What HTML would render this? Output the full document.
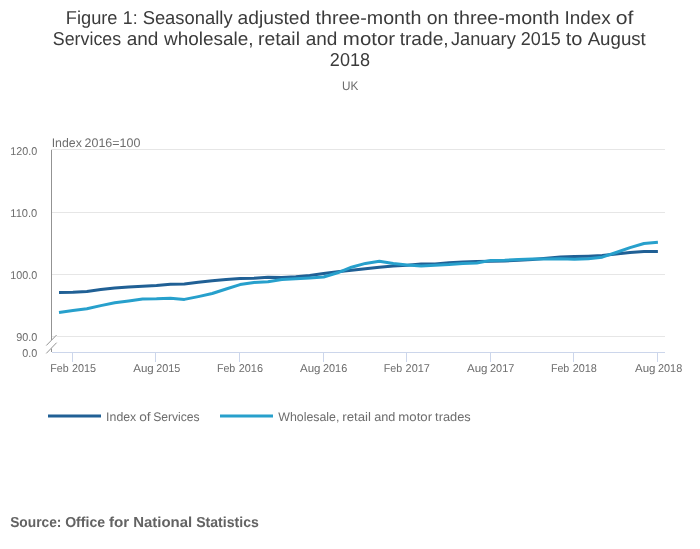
<!DOCTYPE html>
<html><head><meta charset="utf-8">
<style>
html,body{margin:0;padding:0;background:#fff;width:700px;height:549px;overflow:hidden;}
svg{display:block;will-change:transform;text-rendering:geometricPrecision;font-family:"Liberation Sans",sans-serif;}
</style></head>
<body>
<svg width="700" height="549" viewBox="0 0 700 549">
<rect width="700" height="549" fill="#fff"/>
<g stroke="#e6e6e6" stroke-width="1">
<path d="M51 149.5H665"/>
<path d="M51 212.5H665"/>
<path d="M51 274.5H665"/>
<path d="M51 336.5H665"/>
</g>
<path d="M51.5 150V340" stroke="#939393" stroke-width="1"/>
<path d="M51.5 348.5V352" stroke="#939393" stroke-width="1"/>
<path d="M52 352.5H665" stroke="#ccd6eb" stroke-width="1"/>
<path d="M72.5 352V362" stroke="#ccd6eb" stroke-width="1"/><path d="M155.5 352V362" stroke="#ccd6eb" stroke-width="1"/><path d="M239.5 352V362" stroke="#ccd6eb" stroke-width="1"/><path d="M323.5 352V362" stroke="#ccd6eb" stroke-width="1"/><path d="M406.5 352V362" stroke="#ccd6eb" stroke-width="1"/><path d="M490.5 352V362" stroke="#ccd6eb" stroke-width="1"/><path d="M573.5 352V362" stroke="#ccd6eb" stroke-width="1"/><path d="M657.5 352V362" stroke="#ccd6eb" stroke-width="1"/>
<polygon points="46.3,345.5 56.6,335 56.6,342.7 46.3,353.4" fill="#fff"/>
<path d="M46.3 345.5L56.6 335M46.3 353.4L56.6 342.7" stroke="#939393" stroke-width="1"/>
<text x="65.80" y="23.6" font-size="18.63" fill="#3b3b3b" textLength="51.70" lengthAdjust="spacingAndGlyphs">Figure</text>
<text x="122.83" y="23.6" font-size="18.63" fill="#3b3b3b" textLength="14.77" lengthAdjust="spacingAndGlyphs">1:</text>
<text x="142.63" y="23.6" font-size="18.63" fill="#3b3b3b" textLength="89.99" lengthAdjust="spacingAndGlyphs">Seasonally</text>
<text x="237.54" y="23.6" font-size="18.63" fill="#3b3b3b" textLength="72.71" lengthAdjust="spacingAndGlyphs">adjusted</text>
<text x="315.51" y="23.6" font-size="18.63" fill="#3b3b3b" textLength="105.90" lengthAdjust="spacingAndGlyphs">three-month</text>
<text x="426.72" y="23.6" font-size="18.63" fill="#3b3b3b" textLength="21.67" lengthAdjust="spacingAndGlyphs">on</text>
<text x="453.51" y="23.6" font-size="18.63" fill="#3b3b3b" textLength="105.90" lengthAdjust="spacingAndGlyphs">three-month</text>
<text x="564.55" y="23.6" font-size="18.63" fill="#3b3b3b" textLength="46.25" lengthAdjust="spacingAndGlyphs">Index</text>
<text x="615.65" y="23.6" font-size="18.63" fill="#3b3b3b" textLength="17.72" lengthAdjust="spacingAndGlyphs">of</text>
<text x="52.82" y="44.6" font-size="18.63" fill="#3b3b3b" textLength="68.28" lengthAdjust="spacingAndGlyphs">Services</text>
<text x="126.72" y="44.6" font-size="18.63" fill="#3b3b3b" textLength="31.69" lengthAdjust="spacingAndGlyphs">and</text>
<text x="163.93" y="44.6" font-size="18.63" fill="#3b3b3b" textLength="89.68" lengthAdjust="spacingAndGlyphs">wholesale,</text>
<text x="257.95" y="44.6" font-size="18.63" fill="#3b3b3b" textLength="42.04" lengthAdjust="spacingAndGlyphs">retail</text>
<text x="305.72" y="44.6" font-size="18.63" fill="#3b3b3b" textLength="31.69" lengthAdjust="spacingAndGlyphs">and</text>
<text x="342.89" y="44.6" font-size="18.63" fill="#3b3b3b" textLength="52.24" lengthAdjust="spacingAndGlyphs">motor</text>
<text x="399.68" y="44.6" font-size="18.63" fill="#3b3b3b" textLength="48.94" lengthAdjust="spacingAndGlyphs">trade,</text>
<text x="451.01" y="44.6" font-size="18.63" fill="#3b3b3b" textLength="64.78" lengthAdjust="spacingAndGlyphs">January</text>
<text x="520.67" y="44.6" font-size="18.63" fill="#3b3b3b" textLength="40.04" lengthAdjust="spacingAndGlyphs">2015</text>
<text x="565.66" y="44.6" font-size="18.63" fill="#3b3b3b" textLength="16.74" lengthAdjust="spacingAndGlyphs">to</text>
<text x="587.66" y="44.6" font-size="18.63" fill="#3b3b3b" textLength="58.15" lengthAdjust="spacingAndGlyphs">August</text>
<text x="329.85" y="65.7" font-size="18.63" fill="#3b3b3b" textLength="40.17" lengthAdjust="spacingAndGlyphs">2018</text>
<text x="341.91" y="89.9" font-size="12.42" fill="#6d6d6d" textLength="16.31" lengthAdjust="spacingAndGlyphs">UK</text>
<text x="51.67" y="146.9" font-size="12.42" fill="#6d6d6d" textLength="30.14" lengthAdjust="spacingAndGlyphs">Index</text>
<text x="84.59" y="146.9" font-size="12.42" fill="#6d6d6d" textLength="55.79" lengthAdjust="spacingAndGlyphs">2016=100</text>
<text x="10.30" y="154.6" font-size="11.38" fill="#6d6d6d" textLength="26.97" lengthAdjust="spacingAndGlyphs">120.0</text>
<text x="10.30" y="216.9" font-size="11.38" fill="#6d6d6d" textLength="26.97" lengthAdjust="spacingAndGlyphs">110.0</text>
<text x="10.30" y="279.2" font-size="11.38" fill="#6d6d6d" textLength="26.97" lengthAdjust="spacingAndGlyphs">100.0</text>
<text x="16.17" y="340.8" font-size="11.38" fill="#6d6d6d" textLength="21.10" lengthAdjust="spacingAndGlyphs">90.0</text>
<text x="22.23" y="356.7" font-size="11.38" fill="#6d6d6d" textLength="15.04" lengthAdjust="spacingAndGlyphs">0.0</text>
<text x="50.23" y="371.8" font-size="11.38" fill="#6d6d6d" textLength="18.37" lengthAdjust="spacingAndGlyphs">Feb</text>
<text x="72.01" y="371.8" font-size="11.38" fill="#6d6d6d" textLength="24.12" lengthAdjust="spacingAndGlyphs">2015</text>
<text x="133.28" y="371.8" font-size="11.38" fill="#6d6d6d" textLength="20.53" lengthAdjust="spacingAndGlyphs">Aug</text>
<text x="156.29" y="371.8" font-size="11.38" fill="#6d6d6d" textLength="24.12" lengthAdjust="spacingAndGlyphs">2015</text>
<text x="216.93" y="371.8" font-size="11.38" fill="#6d6d6d" textLength="18.37" lengthAdjust="spacingAndGlyphs">Feb</text>
<text x="238.71" y="371.8" font-size="11.38" fill="#6d6d6d" textLength="24.24" lengthAdjust="spacingAndGlyphs">2016</text>
<text x="299.98" y="371.8" font-size="11.38" fill="#6d6d6d" textLength="20.53" lengthAdjust="spacingAndGlyphs">Aug</text>
<text x="322.99" y="371.8" font-size="11.38" fill="#6d6d6d" textLength="24.24" lengthAdjust="spacingAndGlyphs">2016</text>
<text x="383.83" y="371.8" font-size="11.38" fill="#6d6d6d" textLength="18.37" lengthAdjust="spacingAndGlyphs">Feb</text>
<text x="405.61" y="371.8" font-size="11.38" fill="#6d6d6d" textLength="24.29" lengthAdjust="spacingAndGlyphs">2017</text>
<text x="466.98" y="371.8" font-size="11.38" fill="#6d6d6d" textLength="20.53" lengthAdjust="spacingAndGlyphs">Aug</text>
<text x="489.99" y="371.8" font-size="11.38" fill="#6d6d6d" textLength="24.29" lengthAdjust="spacingAndGlyphs">2017</text>
<text x="550.93" y="371.8" font-size="11.38" fill="#6d6d6d" textLength="18.37" lengthAdjust="spacingAndGlyphs">Feb</text>
<text x="572.71" y="371.8" font-size="11.38" fill="#6d6d6d" textLength="24.20" lengthAdjust="spacingAndGlyphs">2018</text>
<text x="634.98" y="371.8" font-size="11.38" fill="#6d6d6d" textLength="20.53" lengthAdjust="spacingAndGlyphs">Aug</text>
<text x="657.99" y="371.8" font-size="11.38" fill="#6d6d6d" textLength="24.20" lengthAdjust="spacingAndGlyphs">2018</text>
<text x="106.11" y="420.7" font-size="12.42" fill="#6d6d6d" textLength="30.14" lengthAdjust="spacingAndGlyphs">Index</text>
<text x="139.17" y="420.7" font-size="12.42" fill="#6d6d6d" textLength="11.47" lengthAdjust="spacingAndGlyphs">of</text>
<text x="153.14" y="420.7" font-size="12.42" fill="#6d6d6d" textLength="46.54" lengthAdjust="spacingAndGlyphs">Services</text>
<text x="278.24" y="420.7" font-size="12.42" fill="#6d6d6d" textLength="61.15" lengthAdjust="spacingAndGlyphs">Wholesale,</text>
<text x="342.28" y="420.7" font-size="12.42" fill="#6d6d6d" textLength="28.74" lengthAdjust="spacingAndGlyphs">retail</text>
<text x="374.15" y="420.7" font-size="12.42" fill="#6d6d6d" textLength="21.13" lengthAdjust="spacingAndGlyphs">and</text>
<text x="398.29" y="420.7" font-size="12.42" fill="#6d6d6d" textLength="33.79" lengthAdjust="spacingAndGlyphs">motor</text>
<text x="435.12" y="420.7" font-size="12.42" fill="#6d6d6d" textLength="35.65" lengthAdjust="spacingAndGlyphs">trades</text>
<text x="10.16" y="526.6" font-size="14.49" fill="#636363" font-weight="bold" textLength="51.27" lengthAdjust="spacingAndGlyphs">Source:</text>
<text x="65.15" y="526.6" font-size="14.49" fill="#636363" font-weight="bold" textLength="39.92" lengthAdjust="spacingAndGlyphs">Office</text>
<text x="108.94" y="526.6" font-size="14.49" fill="#636363" font-weight="bold" textLength="20.27" lengthAdjust="spacingAndGlyphs">for</text>
<text x="133.17" y="526.6" font-size="14.49" fill="#636363" font-weight="bold" textLength="58.98" lengthAdjust="spacingAndGlyphs">National</text>
<text x="196.15" y="526.6" font-size="14.49" fill="#636363" font-weight="bold" textLength="62.77" lengthAdjust="spacingAndGlyphs">Statistics</text>
<polyline points="59.00,292.6 72.93,292.2 86.86,291.4 100.78,289.6 114.71,288.0 128.64,287.0 142.57,286.2 156.50,285.4 170.42,284.2 184.35,283.9 198.28,282.2 212.21,280.8 226.14,279.4 240.06,278.5 253.99,278.2 267.92,277.2 281.85,277.6 295.78,276.8 309.70,275.4 323.63,273.6 337.56,271.8 351.49,270.2 365.42,268.8 379.34,267.2 393.27,266.0 407.20,265.2 421.13,264.0 435.06,264.0 448.98,262.8 462.91,262.0 476.84,261.4 490.77,261.2 504.70,261.0 518.62,260.2 532.55,259.6 546.48,258.2 560.41,257.0 574.34,256.6 588.26,256.2 602.19,255.5 616.12,254.0 630.05,252.4 643.98,251.6 657.90,251.4" fill="none" stroke="#206095" stroke-width="3" stroke-linejoin="round"/>
<polyline points="59.00,312.4 72.93,310.6 86.86,308.8 100.78,305.6 114.71,302.8 128.64,301.0 142.57,299.0 156.50,298.8 170.42,298.2 184.35,299.4 198.28,296.6 212.21,293.5 226.14,289.0 240.06,284.6 253.99,282.4 267.92,281.8 281.85,279.6 295.78,278.8 309.70,278.0 323.63,277.0 337.56,272.8 351.49,267.2 365.42,263.4 379.34,261.2 393.27,263.6 407.20,265.0 421.13,266.0 435.06,265.2 448.98,264.6 462.91,263.6 476.84,263.0 490.77,260.4 504.70,260.2 518.62,259.6 532.55,259.0 546.48,259.0 560.41,258.8 574.34,259.2 588.26,258.8 602.19,257.2 616.12,252.5 630.05,247.6 643.98,243.5 657.90,242.3" fill="none" stroke="#27a0cc" stroke-width="3" stroke-linejoin="round"/>
<path d="M48 416H101" stroke="#206095" stroke-width="3"/>
<path d="M220 416H273" stroke="#27a0cc" stroke-width="3"/>
</svg>
</body></html>
